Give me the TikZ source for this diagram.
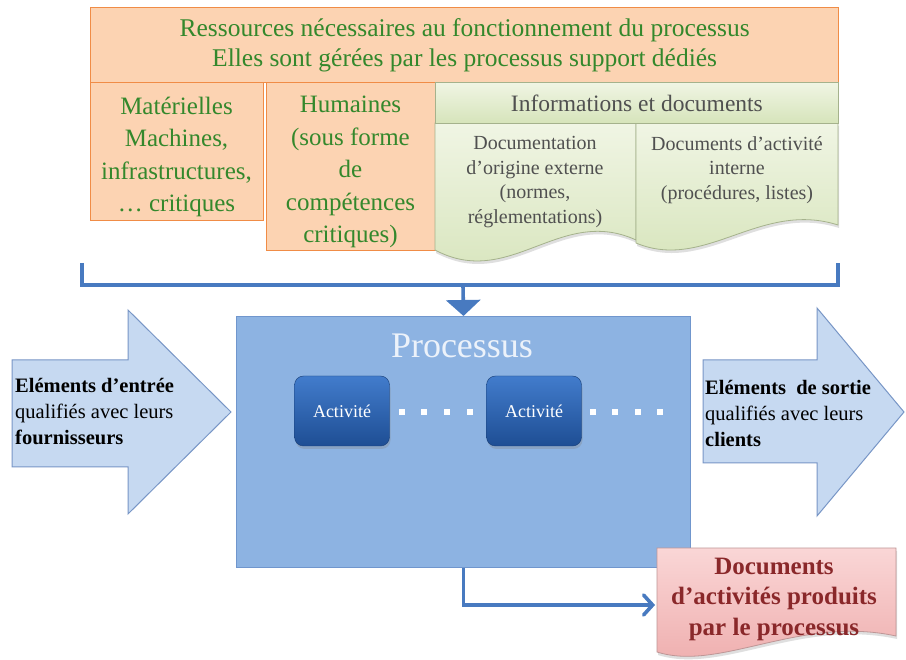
\documentclass[tikz,border=0pt]{standalone}
\usepackage{fontspec}
\setmainfont{Liberation Serif}
\usetikzlibrary{arrows.meta,shadows}

\definecolor{resfill}{RGB}{252,211,178}
\definecolor{resline}{RGB}{240,140,70}
\definecolor{restext}{RGB}{52,136,44}
\definecolor{paperA}{RGB}{240,245,228}
\definecolor{paperB}{RGB}{214,228,186}
\definecolor{paperline}{RGB}{165,178,140}
\definecolor{papertext}{RGB}{80,80,80}
\definecolor{flow}{RGB}{72,122,192}
\definecolor{procfill}{RGB}{141,179,226}
\definecolor{procline}{RGB}{112,150,205}
\definecolor{procttl}{RGB}{236,242,250}
\definecolor{actA}{RGB}{66,124,204}
\definecolor{actB}{RGB}{30,78,148}
\definecolor{iofill}{RGB}{198,217,241}
\definecolor{ioline}{RGB}{120,150,198}
\definecolor{outA}{RGB}{250,214,214}
\definecolor{outB}{RGB}{238,172,172}
\definecolor{outline}{RGB}{190,150,150}
\definecolor{outtext}{RGB}{138,40,42}

\begin{document}
\begin{tikzpicture}[x=1pt,y=-1pt,
  resbox/.style={draw=resline, line width=1.3pt, fill=resfill, text=restext,
    align=center, inner sep=0pt, anchor=north west,
    font=\fontsize{25}{32.5}\selectfont},
  restxt/.style={text=restext, align=center, inner sep=0pt,
    font=\fontsize{25}{32.5}\selectfont},
  infohead/.style={draw=paperline, line width=0.8pt, top color=paperA, bottom color=paperB,
    text=papertext, inner sep=0pt, anchor=north west,
    font=\fontsize{23.5}{28}\selectfont},
  docpaper/.style={draw=paperline, line width=0.8pt, top color=paperA, bottom color=paperB,
    drop shadow={opacity=0.25, shadow xshift=1pt, shadow yshift=-3pt}},
  doctxt/.style={text=papertext, align=center, inner sep=0pt,
    font=\fontsize{20}{24.7}\selectfont},
  flowline/.style={draw=flow, line width=3.6pt},
  procbox/.style={draw=procline, line width=1pt, fill=procfill, inner sep=0pt, anchor=north west},
  proctitle/.style={text=procttl, inner sep=0pt, font=\fontsize{36}{40}\selectfont},
  actbox/.style={rounded corners=9pt, top color=actA, bottom color=actB, draw=actB!80!black,
    line width=0.4pt, minimum width=95pt, minimum height=70pt, text=white, inner sep=0pt,
    font=\fontsize{18}{20}\selectfont,
    drop shadow={opacity=0.3, shadow xshift=1pt, shadow yshift=-3pt}},
  dotmark/.style={fill=white, draw=none, minimum size=5.5pt, inner sep=0pt},
  iobox/.style={draw=ioline, line width=1pt, fill=iofill},
  iotext/.style={anchor=west, align=left, inner sep=0pt, text=black,
    font=\fontsize{20.5}{26}\selectfont},
  outpaper/.style={draw=outline, line width=0.8pt, top color=outA, bottom color=outB,
    drop shadow={opacity=0.25, shadow xshift=1pt, shadow yshift=-3pt}},
  outtxt/.style={text=outtext, align=center, inner sep=0pt,
    font=\bfseries\fontsize{25}{30.5}\selectfont}
]
\useasboundingbox (0,0) rectangle (906,660);
\fill[white] (0,0) rectangle (906,660);

% --- resources ---
\node[resbox, minimum width=748pt, minimum height=75pt,
      font=\fontsize{25.5}{30}\selectfont] (res) at (90,7)
  {Ressources nécessaires au fonctionnement du processus\\Elles sont gérées par les processus support dédiés};
\node[resbox, minimum width=173pt, minimum height=138pt] (mat) at (90,82) {};
\node[restxt] (mattxt) at (176.5,157)
  {Matérielles\\Machines,\\infrastructures,\\… critiques};
\node[resbox, minimum width=169pt, minimum height=168pt] (hum) at (266,82) {};
\node[restxt] (humtxt) at (350.5,172)
  {Humaines\\(sous forme\\de\\compétences\\critiques)};

% information and documents: two papers under a header band
\path[docpaper] (435,123) -- (636,123) -- (636,240)
  .. controls (560,205) and (510,290) .. (435,250) -- cycle;
\path[docpaper] (636,123) -- (838,123) -- (838,225)
  .. controls (760,200) and (705,272) .. (636,243) -- cycle;
\node[infohead, minimum width=403pt, minimum height=41pt] (info) at (435,82)
  {Informations et documents};
\node[doctxt] (ext) at (535,182)
  {Documentation\\d’origine externe\\(normes,\\réglementations)};
\node[doctxt] (int) at (737,170)
  {Documents d’activité\\interne\\(procédures, listes)};

% --- process ---
\node[procbox, minimum width=454pt, minimum height=251pt] (proc) at (236,316) {};
\node[proctitle] (ptitle) at (462,346) {Processus};
\node[actbox] (act1) at (342,411) {Activité};
\node[actbox] (act2) at (534,411) {Activité};
\foreach \x [count=\i] in {402,424,447,470,593,615,638,660}
  \node[dotmark] (dot\i) at (\x,412) {};

% --- inputs and outputs ---
\path[iobox] (12,360) -- (128,360) -- (128,310) -- (231,412) -- (128,514)
  -- (128,467) -- (12,467) -- cycle;
\node[iotext] (inp) at (15,412)
  {\textbf{Eléments d’entrée}\\qualifiés avec leurs\\\textbf{fournisseurs}};
\path[iobox] (703,360) -- (817,360) -- (817,308) -- (904,412) -- (817,516)
  -- (817,463) -- (703,463) -- cycle;
\node[iotext] (outp) at (705,413)
  {\textbf{Eléments\ \ de sortie}\\qualifiés avec leurs\\\textbf{clients}};

% produced documents
\path[outpaper] (657,548) -- (896,548) -- (896,636)
  .. controls (800,615) and (720,672) .. (657,652) -- cycle;
\node[outtxt] (prod) at (774,599)
  {Documents\\d’activités produits\\par le processus};
\coordinate (prodin) at (655,605);

% --- connectors ---
\coordinate (brL) at (82,263);
\coordinate (brLb) at (82,285);
\coordinate (brR) at (838,263);
\coordinate (brRb) at (838,285);
\coordinate (brM) at (463,285);
\draw[flowline] (brL) -- (brLb) -- (brRb) -- (brR);
\draw[flowline, -{Triangle[width=34pt,length=16pt]}] (brM) -- (proc.north);
\draw[flowline, -{Straight Barb[width=20pt,length=9pt,line cap=round]}] (proc.south) |- (prodin);
\end{tikzpicture}
\end{document}
